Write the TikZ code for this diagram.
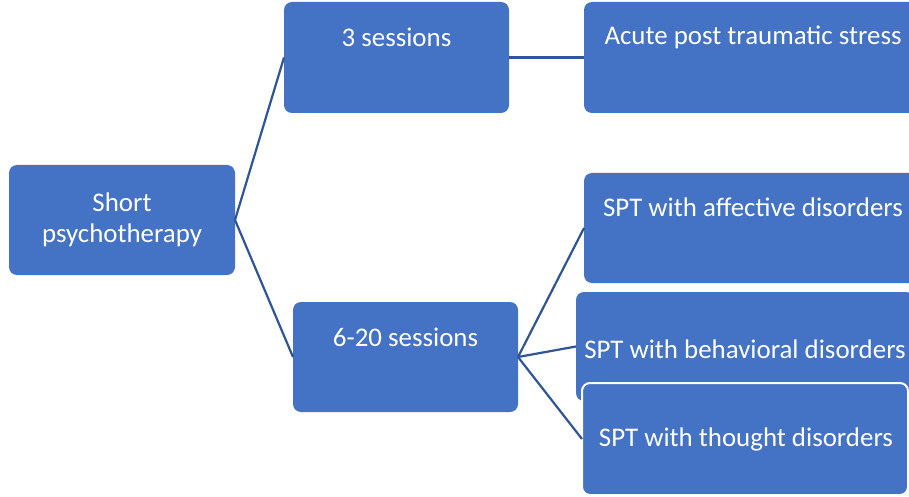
\documentclass[tikz,border=0pt]{standalone}
\usepackage{fontspec}
\setmainfont{Carlito}
\definecolor{boxblue}{HTML}{4472C4}
\definecolor{linkblue}{HTML}{2F5597}
\begin{document}
\begin{tikzpicture}[x=1pt,y=-1pt,
  box/.style={rectangle, rounded corners=8pt, fill=boxblue, draw=none, inner sep=0pt, outer sep=0pt},
  txt/.style={text=white, font=\fontsize{26.9}{31}\selectfont, align=center, inner sep=0pt},
  link/.style={draw=linkblue, line width=2.2pt}]
\clip (0,0) rectangle (909,497);
\fill[white] (0,0) rectangle (909,497);
% boxes
\node[box, minimum width=226pt, minimum height=110pt] (sp) at (122,220) {};
\node[box, minimum width=225pt, minimum height=111pt] (s3) at (396.5,57.5) {};
\node[box, minimum width=338pt, minimum height=111pt] (ac) at (753,57.5) {};
\node[box, minimum width=225pt, minimum height=110pt] (s6) at (405.5,357) {};
\node[box, minimum width=338pt, minimum height=110pt] (af) at (753,228) {};
\node[box, minimum width=338pt, minimum height=109pt] (be) at (745,346.5) {};
\node[box, draw=white, line width=2pt, minimum width=326pt, minimum height=112pt] (th) at (745,439) {};
% texts
\node[txt] (tsp) at (sp.center) {Short\\psychotherapy};
\node[txt] (ts3) at (396.5,37) {3 sessions};
\node[txt] (tac) at (753,37) {Acute post traumatic stress};
\node[txt] (ts6) at (405.5,337) {6-20 sessions};
\node[txt] (taf) at (753,207) {SPT with affective disorders};
\node[txt] (tbe) at (745,349) {SPT with behavioral disorders};
\node[txt] (tth) at (746,439) {SPT with thought disorders};
% connectors
\draw[link] (sp.east) -- (s3.west);
\draw[link] (sp.east) -- (s6.west);
\draw[link] (s3.east) -- (ac.west);
\draw[link] (s6.east) -- (af.west);
\draw[link] (s6.east) -- (be.west);
\draw[link] (s6.east) -- (th.west);
\end{tikzpicture}
\end{document}
